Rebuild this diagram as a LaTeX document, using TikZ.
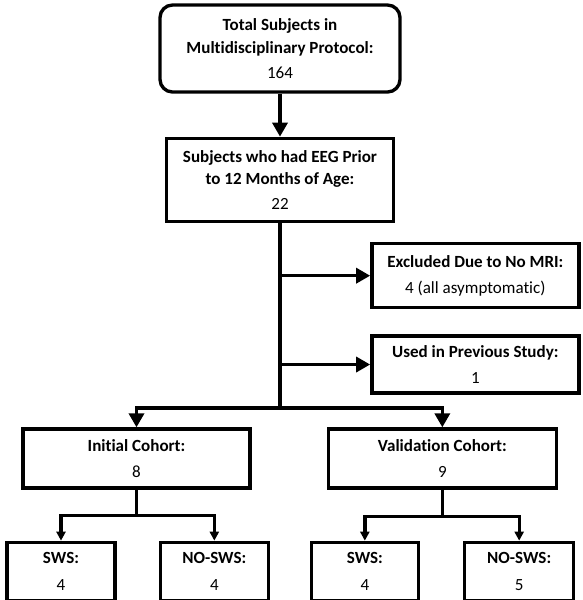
\documentclass[tikz,border=0pt]{standalone}
\usepackage{fontspec}
\setmainfont{Carlito}[Ligatures={NoCommon,NoRare}, Contextuals=NoAlternate]
\usepackage{tikz}
\usetikzlibrary{arrows.meta, positioning}

\begin{document}
\begin{tikzpicture}[
          box/.style={rectangle, draw, line width=1.9pt, align=center, inner sep=2pt,
                      font=\fontsize{9.7}{13}\selectfont},
          rbox/.style={box, rounded corners=0.25cm},
          line/.style={line width=1.9pt},
          arrow/.style={line, -{Triangle[length=0.28cm, width=0.3cm]}},
          smallarrow/.style={line, -{Triangle[length=0.18cm, width=0.18cm]}},
          node distance=0.86cm
      ]
      \useasboundingbox (0,0) rectangle (11.66,-12);

      % Main chain
      \node[rbox, minimum width=4.8cm, minimum height=1.74cm] (total) at (5.6,-0.97)
            {\textbf{Total Subjects in}\\\textbf{Multidisciplinary Protocol:}\\[1pt]164};
      \node[box, minimum width=4.54cm, minimum height=1.66cm, below=of total] (eeg)
            {\textbf{Subjects who had EEG Prior}\\\textbf{to 12 Months of Age:}\\[1pt]22};

      % Exclusions
      \node[box, minimum width=4.14cm, minimum height=1.28cm, below right=0.38cm and -0.5cm of eeg] (excl)
            {\textbf{Excluded Due to No MRI:}\\[2pt]4 (all asymptomatic)};
      \node[box, minimum width=4.14cm, minimum height=1.14cm, below=0.5cm of excl] (prev)
            {\textbf{Used in Previous Study:}\\[2pt]1};

      % Cohorts
      \node[box, minimum width=4.54cm, minimum height=1.18cm] (init) at (2.73,-9.17)
            {\textbf{Initial Cohort:}\\[2pt]8};
      \node[box, minimum width=4.56cm, minimum height=1.18cm, right=1.5cm of init] (valid)
            {\textbf{Validation Cohort:}\\[2pt]9};

      % Outcomes
      \node[box, minimum width=2.16cm, minimum height=1.16cm, below=1.02cm of init, xshift=-1.51cm] (swsa)
            {\textbf{SWS:}\\[2pt]4};
      \node[box, minimum width=2.16cm, minimum height=1.16cm, right=0.84cm of swsa] (noswsa)
            {\textbf{NO-SWS:}\\[2pt]4};
      \node[box, minimum width=2.14cm, minimum height=1.16cm, below=1.02cm of valid, xshift=-1.55cm] (swsb)
            {\textbf{SWS:}\\[2pt]4};
      \node[box, minimum width=2.18cm, minimum height=1.16cm, right=0.86cm of swsb] (noswsb)
            {\textbf{NO-SWS:}\\[2pt]5};

      % Split points
      \coordinate[below=3.7cm of eeg.south] (split);
      \coordinate[below=0.52cm of init.south] (isplit);
      \coordinate[below=0.54cm of valid.south] (vsplit);

      % Arrows
      \draw[arrow] (total) -- (eeg);
      \draw[line] (eeg.south) -- (split);
      \draw[arrow] (eeg.south |- excl.west) -- (excl.west);
      \draw[arrow] (eeg.south |- prev.west) -- (prev.west);
      \draw[arrow] (split) -| (init.north);
      \draw[arrow] (split) -| (valid.north);

      \draw[line] (init.south) -- (isplit);
      \draw[smallarrow] (isplit) -| (swsa.north);
      \draw[smallarrow] (isplit) -| (noswsa.north);
      \draw[line] (valid.south) -- (vsplit);
      \draw[smallarrow] (vsplit) -| (swsb.north);
      \draw[smallarrow] (vsplit) -| (noswsb.north);

\end{tikzpicture}
\end{document}
